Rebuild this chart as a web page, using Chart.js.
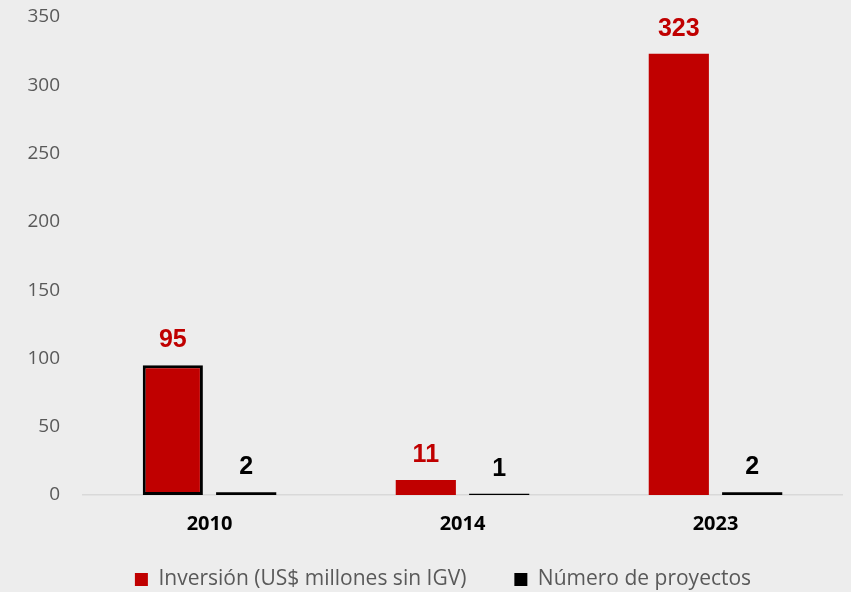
<!DOCTYPE html>
<html>
<head>
<meta charset="utf-8">
<script src="https://cdn.jsdelivr.net/npm/chart.js@4"></script>
<style>
  html, body { margin: 0; padding: 0; background: #ededed; }
  #wrap { width: 851px; height: 592px; }
</style>
</head>
<body>
<div id="wrap"><canvas id="myChart"></canvas></div>
<script>
const years = ['2010', '2014', '2023'];
const inversion = [95, 11, 323];
const proyectos = [2, 1, 2];
const yTicks = [0, 50, 100, 150, 200, 250, 300, 350];

const ctx = document.getElementById('myChart');

// etiquetas de valor encima de cada barra
const valueLabels = {
    id: 'valueLabels',
    afterDatasetsDraw(chart) {
        const c = chart.ctx;
        c.save();
        c.font = 'bold 25px "Liberation Sans", Arial, sans-serif';
        c.textAlign = 'center';
        c.textBaseline = 'middle';
        chart.data.datasets.forEach(function (ds, i) {
            const meta = chart.getDatasetMeta(i);
            c.fillStyle = ds.labelColor;
            meta.data.forEach(function (bar, j) {
                c.fillText(ds.data[j], bar.x, bar.y - 25);
            });
        });
        c.restore();
    }
};

// leyenda: menos alto reservado y corrida a la derecha como en el original
const legendTweak = {
    id: 'legendTweak',
    beforeLayout(chart) {
        const lg = chart.legend;
        if (!lg._wrapped) {
            const fit = lg.fit;
            lg.fit = function () {
                fit.call(this);
                this.height = 39;
            };
            lg._wrapped = true;
        }
    },
    afterLayout(chart) {
        chart.legend.left += 44;
        chart.legend.top -= 32;
    }
};

const chart = new Chart(ctx, {
    type: 'bar',
    data: {
        labels: years,
        datasets: [{
            label: 'Inversión (US$ millones sin IGV)',
            data: inversion,
            backgroundColor: '#c00000',
            borderColor: '#000000',
            borderWidth: [3, 0, 0],
            borderSkipped: false,
            labelColor: '#c00000'
        }, {
            label: 'Número de proyectos',
            data: proyectos,
            backgroundColor: '#000000',
            labelColor: '#000000'
        }]
    },
    options: {
        responsive: true,
        maintainAspectRatio: false,
        animation: false,
        datasets: {
            bar: {
                categoryPercentage: 0.58,
                barPercentage: 0.82
            }
        },
        layout: {
            padding: { top: 17, right: 9, left: 0, bottom: 0 }
        },
        plugins: {
            tooltip: { enabled: false },
            legend: {
                position: 'bottom',
                labels: {
                    color: '#595959',
                    font: { family: '"Open Sans", sans-serif', size: 21 },
                    boxWidth: 13,
                    boxHeight: 13,
                    padding: 48,
                    generateLabels: function (chart) {
                        const items = Chart.defaults.plugins.legend.labels.generateLabels(chart);
                        items.forEach(function (it) {
                            it.lineWidth = 0;
                            it.strokeStyle = it.fillStyle;
                        });
                        return items;
                    }
                }
            }
        },
        scales: {
            x: {
                grid: { display: false, drawTicks: false },
                border: { display: true, color: '#d9d9d9', width: 1.5 },
                ticks: {
                    color: '#000000',
                    padding: 17,
                    font: { family: '"Open Sans", sans-serif', size: 20, weight: 'bold' }
                }
            },
            y: {
                min: 0,
                max: 350,
                afterBuildTicks: function (scale) {
                    scale.ticks = yTicks.map(function (v) { return { value: v }; });
                },
                afterFit: function (scale) {
                    scale.width = 83;
                    scale.paddingTop = 0;
                    scale.paddingBottom = 0;
                },
                grid: { display: false, drawTicks: false },
                border: { display: false },
                ticks: {
                    color: '#595959',
                    padding: 23,
                    font: { family: '"Open Sans", sans-serif', size: 19 }
                }
            }
        }
    },
    plugins: [valueLabels, legendTweak]
});
</script>
</body>
</html>
